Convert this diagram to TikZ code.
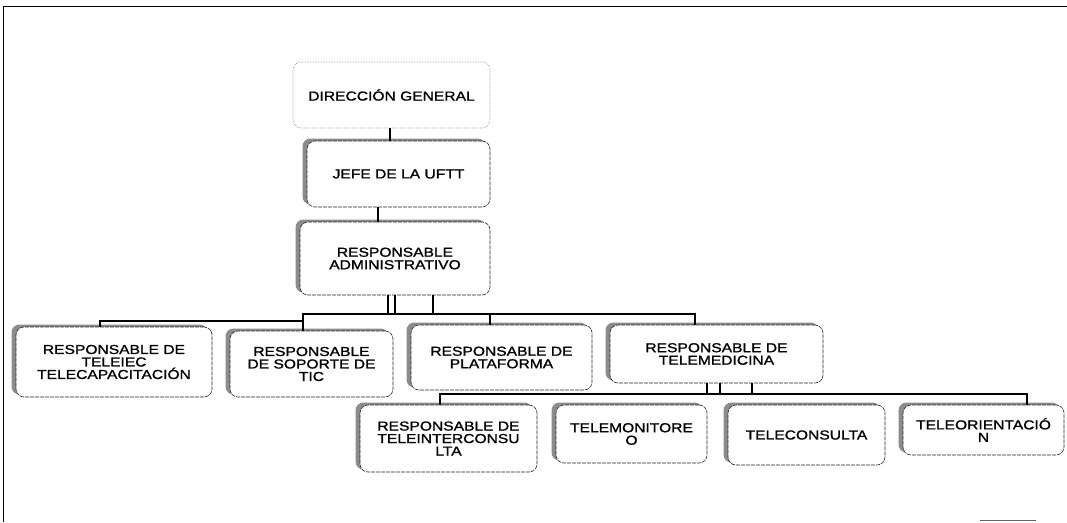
\documentclass[tikz,border=0pt]{standalone}
\usepackage{fontspec}
\newfontfamily\orgfont[FakeStretch=1.2,FakeBold=1.2]{Liberation Sans}
\usetikzlibrary{shadows}
\begin{document}
\begin{tikzpicture}[x=1pt,y=-1pt,
  orgbox/.style={rounded corners=8pt, draw=black!85, line width=0.6pt,
    dash pattern=on 4pt off 1pt, fill=white, inner sep=0pt, align=center,
    font=\orgfont\fontsize{13}{12.5}\selectfont,
    drop shadow={shadow xshift=-4.5pt, shadow yshift=2.5pt, fill=black!45, opacity=1}},
  topbox/.style={rounded corners=8pt, draw=black!45, line width=0.6pt,
    densely dotted, fill=white, inner sep=0pt, align=center,
    font=\orgfont\fontsize{13}{12.5}\selectfont},
  conn/.style={draw=black, line width=1.1pt}]
\useasboundingbox (0,0) rectangle (1067,522);
\fill[white] (0,0) rectangle (1067,522);
% frame
\draw[line width=1pt] (3,522) -- (3,6) -- (1067,6);
\draw[black!60, line width=0.6pt] (980,520) -- (1036,520);

% nodes
\node[topbox, minimum width=197pt, minimum height=66pt] (dg) at (391.5,95) {DIRECCIÓN GENERAL};
\node[orgbox, minimum width=183pt, minimum height=66pt] (jefe) at (398.5,174) {JEFE DE LA UFTT};
\node[orgbox, minimum width=190pt, minimum height=73pt] (admin) at (395,258.5) {RESPONSABLE\\ADMINISTRATIVO};
\node[orgbox, minimum width=196pt, minimum height=70pt] (b1) at (114,362) {RESPONSABLE DE\\TELEIEC\\TELECAPACITACIÓN};
\node[orgbox, minimum width=163pt, minimum height=66pt] (b2) at (311.5,364) {RESPONSABLE\\DE SOPORTE DE\\TIC};
\node[orgbox, minimum width=181pt, minimum height=65pt] (b3) at (501.5,357.5) {RESPONSABLE DE\\PLATAFORMA};
\node[orgbox, minimum width=213pt, minimum height=58pt] (b4) at (716.5,354) {RESPONSABLE DE\\TELEMEDICINA};
\node[orgbox, minimum width=177pt, minimum height=67pt] (b5) at (448.5,438.5) {RESPONSABLE DE\\TELEINTERCONSU\\LTA};
\node[orgbox, minimum width=151pt, minimum height=58pt] (b6) at (631.5,434) {TELEMONITORE\\O};
\node[orgbox, minimum width=157pt, minimum height=60pt] (b7) at (806.5,435) {TELECONSULTA};
\node[orgbox, minimum width=161pt, minimum height=50pt] (b8) at (983.5,430) {TELEORIENTACIÓ\\N};

% connector joints
\coordinate (x1) at (390,0);
\coordinate (x2) at (378,0);
\coordinate (a1) at (388,314);
\coordinate (a2) at (395,314);
\coordinate (a3) at (433,314);
\coordinate (busL) at (100,321);
\coordinate (busM) at (303,321);
\coordinate (busN) at (303,314);
\coordinate (busR) at (695,314);
\coordinate (d3) at (490,314);
\coordinate (c1) at (440,394);
\coordinate (c2) at (1027,394);
\coordinate (e1) at (707,394);
\coordinate (e2) at (720,394);
\coordinate (e3) at (752,394);

% connectors
\draw[conn] (dg.south -| x1) -- (jefe.north -| x1);
\draw[conn] (jefe.south -| x2) -- (admin.north -| x2);
\draw[conn] (admin.south -| a1) -- (a1);
\draw[conn] (admin.south -| a2) -- (a2);
\draw[conn] (admin.south -| a3) -- (a3);
\draw[conn] (b1.north -| busL) -- (busL) -- (busM) -- (busN) -- (busR) -- (b4.north -| busR);
\draw[conn] (busM) -- (b2.north -| busM);
\draw[conn] (d3) -- (b3.north -| d3);
\draw[conn] (b5.north -| c1) -- (c1) -- (c2) -- (b8.north -| c2);
\draw[conn] (b4.south -| e1) -- (e1);
\draw[conn] (b4.south -| e2) -- (e2);
\draw[conn] (b4.south -| e3) -- (e3);
\end{tikzpicture}
\end{document}
